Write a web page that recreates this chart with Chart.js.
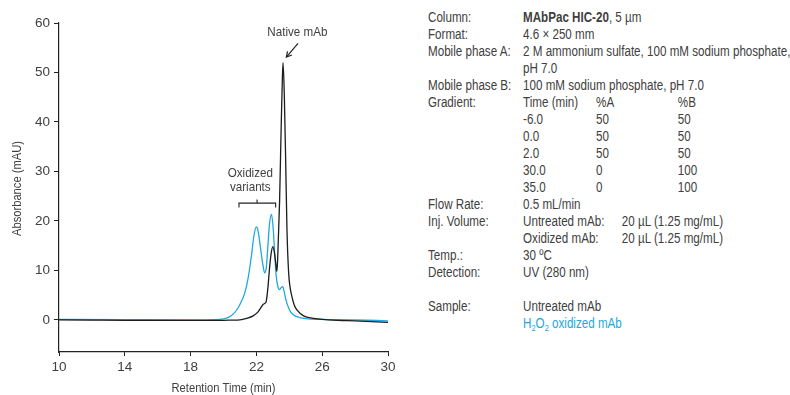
<!DOCTYPE html>
<html lang="en">
<head>
<meta charset="UTF-8">
<title>MAbPac HIC-20 oxidized mAb</title>
<script src="https://cdn.jsdelivr.net/npm/chart.js"></script>
<style>
  body { margin: 0; background: #fff; }
  .janela { position: relative; width: 790px; height: 395px; overflow: hidden;
            font-family: "Liberation Sans", Arial, sans-serif; color: #404040; }
  .grafico { position: absolute; left: 0; top: 0; width: 400px; height: 395px; }
  /* texto comprimido para imitar a fonte condensada do original */
  .info { position: absolute; left: 428px; top: 9px; width: 440px; font-size: 14px;
          transform: scaleX(0.83); transform-origin: 0 0; }
  .linha { position: relative; height: 17px; line-height: 17px; white-space: nowrap; }
  .linha span { position: absolute; top: 0; }
  .c0 { left: 0; } .c1 { left: 114.5px; } .cA { left: 202.5px; } .cB { left: 301px; } .c2 { left: 233.5px; }
  .azul { color: #22a8e0; }
  sub { font-size: 9px; vertical-align: -3px; line-height: 0; }
</style>
</head>
<body>
<div class="janela">
  <div class="grafico"><canvas id="hicChart"></canvas></div>

  <div class="info">
    <div class="linha"><span class="c0">Column:</span><span class="c1"><b>MAbPac HIC-20</b>, 5 µm</span></div>
    <div class="linha"><span class="c0">Format:</span><span class="c1">4.6 × 250 mm</span></div>
    <div class="linha"><span class="c0">Mobile phase A:</span><span class="c1">2 M ammonium sulfate, 100 mM sodium phosphate,</span></div>
    <div class="linha"><span class="c1">pH 7.0</span></div>
    <div class="linha"><span class="c0">Mobile phase B:</span><span class="c1">100 mM sodium phosphate, pH 7.0</span></div>
    <div class="linha"><span class="c0">Gradient:</span><span class="c1">Time (min)</span><span class="cA">%A</span><span class="cB">%B</span></div>
    <div class="linha"><span class="c1">-6.0</span><span class="cA">50</span><span class="cB">50</span></div>
    <div class="linha"><span class="c1">0.0</span><span class="cA">50</span><span class="cB">50</span></div>
    <div class="linha"><span class="c1">2.0</span><span class="cA">50</span><span class="cB">50</span></div>
    <div class="linha"><span class="c1">30.0</span><span class="cA">0</span><span class="cB">100</span></div>
    <div class="linha"><span class="c1">35.0</span><span class="cA">0</span><span class="cB">100</span></div>
    <div class="linha"><span class="c0">Flow Rate:</span><span class="c1">0.5 mL/min</span></div>
    <div class="linha"><span class="c0">Inj. Volume:</span><span class="c1">Untreated mAb:</span><span class="c2">20 µL (1.25 mg/mL)</span></div>
    <div class="linha"><span class="c1">Oxidized mAb:</span><span class="c2">20 µL (1.25 mg/mL)</span></div>
    <div class="linha"><span class="c0">Temp.:</span><span class="c1">30 ºC</span></div>
    <div class="linha"><span class="c0">Detection:</span><span class="c1">UV (280 nm)</span></div>
    <div class="linha"></div>
    <div class="linha"><span class="c0">Sample:</span><span class="c1">Untreated mAb</span></div>
    <div class="linha"><span class="c1 azul">H<sub>2</sub>O<sub>2</sub> oxidized mAb</span></div>
  </div>
</div>

<script>
var untreatedTime = [10, 12, 14, 16, 18, 19, 20, 20.5, 21, 21.4, 21.8, 22.1, 22.3, 22.4, 22.5, 22.6, 22.7, 22.8, 22.9, 23.0, 23.1, 23.2, 23.25, 23.3, 23.41, 23.5, 23.58, 23.62, 23.7, 23.78, 23.86, 23.96, 24.05, 24.16, 24.3, 24.46, 24.87, 25.3, 26, 27, 28, 29, 30];
var untreatedAbs  = [0, -0.05, -0.1, -0.1, -0.1, -0.1, -0.1, -0.05, 0, 0.3, 0.8, 1.6, 2.6, 3.1, 3.3, 3.8, 6.5, 10.5, 13.5, 14.8, 13.5, 10.8, 9.8, 13, 24, 38, 49, 52, 45, 32, 18, 9.5, 6.5, 4.7, 3, 2, 0.8, 0.4, 0.1, -0.1, -0.2, -0.35, -0.5];

var oxidizedTime = [10, 14, 18, 19.5, 20, 20.3, 20.6, 20.9, 21.1, 21.3, 21.5, 21.7, 21.85, 22.0, 22.1, 22.25, 22.4, 22.5, 22.6, 22.7, 22.8, 22.92, 23.02, 23.12, 23.2, 23.3, 23.4, 23.5, 23.6, 23.7, 23.8, 23.95, 24.1, 24.3, 24.6, 25, 26, 28, 30];
var oxidizedAbs  = [0.1, 0.05, 0, 0.05, 0.2, 0.5, 1.2, 2.5, 3.8, 5.5, 8.5, 13, 17, 18.8, 18, 14.5, 11, 9.5, 10.5, 15, 19.5, 21.3, 18.5, 13, 9, 6.8, 6.1, 6.5, 6.7, 5.5, 4, 2.5, 1.5, 0.9, 0.5, 0.25, 0.1, 0, -0.2];

var xTicks = [10, 14, 18, 22, 26, 30];
var yTicks = [0, 10, 20, 30, 40, 50, 60];

var fonte = '"Liberation Sans", Arial, sans-serif';
var cinza = '#404040';

function pontos(xs, ys) {
  return xs.map(function (x, i) { return { x: x, y: ys[i] }; });
}

// texto estreitado no canvas
function textoEstreito(ctx, txt, x, y, rot) {
  ctx.save();
  ctx.translate(x, y);
  if (rot) ctx.rotate(rot);
  ctx.scale(0.86, 1);
  ctx.fillText(txt, 0, 0);
  ctx.restore();
}

// anotações: títulos dos eixos, "Native mAb" com seta e colchete "Oxidized variants"
var anotacoes = {
  id: 'anotacoes',
  afterDatasetsDraw: function (chart) {
    var ctx = chart.ctx;
    var sx = chart.scales.x, sy = chart.scales.y;
    var area = chart.chartArea;
    function px(t) { return sx.getPixelForValue(t); }
    function py(v) { return sy.getPixelForValue(v); }
    ctx.save();
    ctx.fillStyle = cinza;
    ctx.strokeStyle = '#222';
    ctx.textAlign = 'center';
    ctx.textBaseline = 'middle';

    ctx.font = '13px ' + fonte;
    textoEstreito(ctx, 'Retention Time (min)', (area.left + area.right) / 2, 388);
    textoEstreito(ctx, 'Absorbance (mAU)', 17, (area.top + area.bottom) / 2 + 1, -Math.PI / 2);

    ctx.font = '13.5px ' + fonte;
    textoEstreito(ctx, 'Native mAb', px(24.49), py(58.2));
    textoEstreito(ctx, 'Oxidized', px(21.63), py(29.7));
    textoEstreito(ctx, 'variants', px(21.63), py(26.8));

    // seta
    ctx.lineWidth = 1.2;
    var x1 = px(24.53), y1 = py(55.9), x2 = px(23.82), y2 = py(53.1);
    ctx.beginPath(); ctx.moveTo(x1, y1); ctx.lineTo(x2, y2); ctx.stroke();
    var ang = Math.atan2(y2 - y1, x2 - x1);
    ctx.beginPath();
    ctx.moveTo(x2 - 6 * Math.cos(ang - 0.5), y2 - 6 * Math.sin(ang - 0.5));
    ctx.lineTo(x2, y2);
    ctx.lineTo(x2 - 6 * Math.cos(ang + 0.5), y2 - 6 * Math.sin(ang + 0.5));
    ctx.stroke();

    // colchete
    ctx.lineWidth = 1.1;
    ctx.beginPath();
    ctx.moveTo(px(20.94), py(22.7));
    ctx.lineTo(px(20.94), py(23.6));
    ctx.lineTo(px(23.17), py(23.6));
    ctx.lineTo(px(23.17), py(22.7));
    ctx.moveTo(px(22.04), py(23.6));
    ctx.lineTo(px(22.04), py(24.3));
    ctx.stroke();
    ctx.restore();
  }
};

const ctx = document.getElementById('hicChart');
new Chart(ctx, {
  type: 'line',
  data: {
    datasets: [{
      label: 'Untreated mAb',
      data: pontos(untreatedTime, untreatedAbs),
      borderColor: '#1c1c1c',
      borderWidth: 1.3,
      pointRadius: 0,
      cubicInterpolationMode: 'monotone'
    }, {
      label: 'H2O2 oxidized mAb',
      data: pontos(oxidizedTime, oxidizedAbs),
      borderColor: '#22a8e0',
      borderWidth: 1.3,
      pointRadius: 0,
      cubicInterpolationMode: 'monotone'
    }]
  },
  options: {
    responsive: true,
    maintainAspectRatio: false,
    animation: false,
    layout: { padding: { top: 23, right: 12, left: 0, bottom: 0 } },
    plugins: { legend: { display: false }, tooltip: { enabled: false } },
    scales: {
      x: {
        type: 'linear', min: 10, max: 30,
        afterBuildTicks: function (s) { s.ticks = xTicks.map(function (v) { return { value: v }; }); },
        afterFit: function (s) { s.height = 43; },
        grid: { drawOnChartArea: false, drawTicks: true, tickLength: 4, color: '#222' },
        border: { color: '#222', width: 1.2 },
        ticks: { color: cinza, font: { family: fonte, size: 13.5 }, padding: 3, maxRotation: 0 }
      },
      y: {
        type: 'linear', min: -6.5, max: 60,
        afterBuildTicks: function (s) { s.ticks = yTicks.map(function (v) { return { value: v }; }); },
        afterFit: function (s) { s.width = 59; },
        grid: { drawOnChartArea: false, drawTicks: true, tickLength: 5, color: '#222' },
        border: { color: '#222', width: 1.2 },
        ticks: { color: cinza, font: { family: fonte, size: 13.5 }, padding: 4 }
      }
    }
  },
  plugins: [anotacoes]
});
</script>
</body>
</html>
